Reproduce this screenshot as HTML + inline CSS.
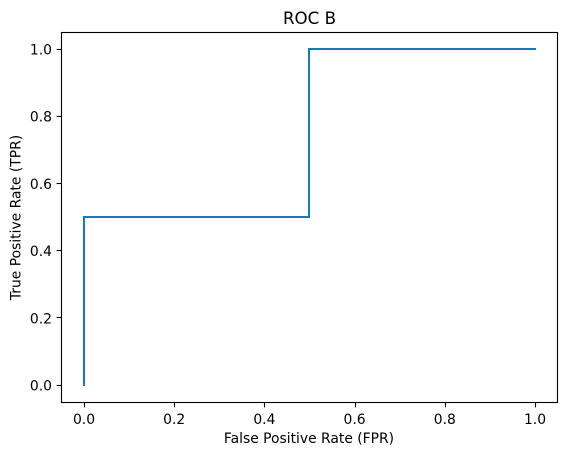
<!DOCTYPE html>
<html>
<head>
<meta charset="utf-8">
<style>
html,body{margin:0;padding:0;background:#fff;}
svg{display:block;}
text{font-family:"DejaVu Sans","Liberation Sans",sans-serif;fill:#000;}
</style>
</head>
<body>
<svg id="chart" xmlns="http://www.w3.org/2000/svg" width="567" height="455" viewBox="0 0 567 455"></svg>
<script>
const fprValues = [0, 0, 0.5, 0.5, 1];
const tprValues = [0, 0.5, 0.5, 1, 1];
const xTickValues = [0, 0.2, 0.4, 0.6, 0.8, 1];
const yTickValues = [0, 0.2, 0.4, 0.6, 0.8, 1];
const chartTitle = 'ROC B';
const xAxisLabel = 'False Positive Rate (FPR)';
const yAxisLabel = 'True Positive Rate (TPR)';

const NS = 'http://www.w3.org/2000/svg';
const svg = document.getElementById('chart');
const plot = {left: 61.5, right: 557.5, top: 32.5, bottom: 402.5};
function xScale(v) { return 84.4 + v * 451; }
function yScale(v) { return 385 - v * 336; }
function make(tag, attrs, parent) {
  const el = document.createElementNS(NS, tag);
  for (const k in attrs) el.setAttribute(k, attrs[k]);
  (parent || svg).appendChild(el);
  return el;
}

const background = make('rect', {x: 0, y: 0, width: 567, height: 455, fill: '#fff'});



const path = fprValues.map((f, i) => (i ? 'L' : 'M') + Math.floor(xScale(f)) + ' ' + yScale(tprValues[i])).join(' ');
const line = make('path', {d: path, fill: 'none', stroke: '#1f77b4', 'stroke-width': 2.08, 'stroke-linecap': 'square', 'stroke-linejoin': 'miter'});



const frame = make('rect', {x: plot.left, y: plot.top, width: plot.right - plot.left, height: plot.bottom - plot.top, fill: 'none', stroke: '#000', 'stroke-width': 1.1});



xTickValues.forEach(v => {
  const x = Math.floor(xScale(v)) + 0.5;
  const tick = make('line', {x1: x, x2: x, y1: plot.bottom, y2: plot.bottom + 4.9, stroke: '#000', 'stroke-width': 1.1});
  
  
  const label = make('text', {x: xScale(v) - 0.4, y: 424, 'font-size': 13.89, 'text-anchor': 'middle'});
  
  
  label.textContent = v.toFixed(1);
});

yTickValues.forEach(v => {
  const y = Math.round(yScale(v) - 0.5) + 0.5;
  const tick = make('line', {x1: plot.left - 4.9, x2: plot.left, y1: y, y2: y, stroke: '#000', 'stroke-width': 1.1});
  
  
  const label = make('text', {x: 52, y: yScale(v) + 5.5, 'font-size': 13.89, 'text-anchor': 'end'});
  
  
  label.textContent = v.toFixed(1);
});

const title = make('text', {x: 309.5, y: 24, 'font-size': 16.67, 'text-anchor': 'middle'});


title.textContent = chartTitle;

const xTitle = make('text', {x: 309, y: 443, 'font-size': 13.89, 'text-anchor': 'middle'});


xTitle.textContent = xAxisLabel;

const yTitle = make('text', {x: 0, y: 0, 'font-size': 13.89, 'text-anchor': 'middle', transform: 'translate(20.5 217.5) rotate(-90)'});


yTitle.textContent = yAxisLabel;
</script>
</body>
</html>
